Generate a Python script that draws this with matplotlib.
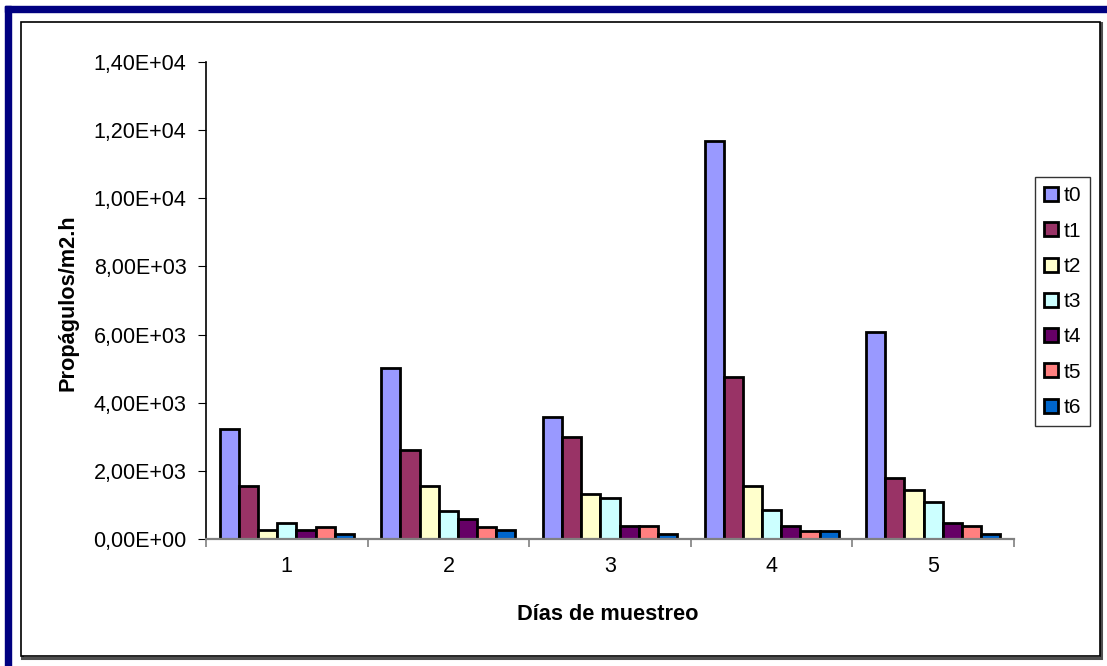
import numpy as np
import matplotlib.pyplot as plt
from matplotlib.patches import Rectangle
from matplotlib.ticker import FuncFormatter

plt.rcParams['font.family'] = ['Liberation Sans', 'DejaVu Sans']

dias = ['1', '2', '3', '4', '5']
series = ['t0', 't1', 't2', 't3', 't4', 't5', 't6']
t0 = [3220, 5010, 3580, 11670, 6070]
t1 = [1560, 2620, 2990, 4760, 1790]
t2 = [250, 1560, 1320, 1560, 1440]
t3 = [480, 830, 1200, 840, 1080]
t4 = [250, 600, 370, 370, 480]
t5 = [360, 360, 370, 240, 380]
t6 = [140, 250, 140, 240, 140]
colores = ['#9999FF', '#993366', '#FFFFCC', '#CCFFFF', '#660066', '#FF8080', '#0066CC']

datos = [t0, t1, t2, t3, t4, t5, t6]

fig = plt.figure(figsize=(11.07, 6.66), dpi=100)
ax = fig.add_axes([206 / 1107, 1 - 539 / 666, (1014 - 206) / 1107, (539 - 62) / 666])

# borde azul (arriba e izquierda) y marco interior con sombra
fig.patches.append(Rectangle((5 / 1107, 0), 6 / 1107, 1 - 6 / 666, transform=fig.transFigure,
                             color='#000080', zorder=-5))
fig.patches.append(Rectangle((5 / 1107, 1 - 12 / 666), 1, 6 / 666, transform=fig.transFigure,
                             color='#000080', zorder=-5))
fig.patches.append(Rectangle((22 / 1107, 1 - 658 / 666), (1101 - 22) / 1107, (658 - 23) / 666,
                             transform=fig.transFigure, fill=False, edgecolor='#505050', lw=2.2, zorder=-5))
fig.patches.append(Rectangle((21 / 1107, 1 - 656 / 666), (1100 - 21) / 1107, (656 - 22) / 666,
                             transform=fig.transFigure, facecolor='white', edgecolor='black', lw=1.2,
                             zorder=-4))

n = len(series)
ancho = 1 / (n + 1.43)
x = np.arange(len(dias))
for i, (nombre, vals) in enumerate(zip(series, datos)):
    pos = x + (i - (n - 1) / 2) * ancho
    ax.bar(pos, vals, width=ancho, color=colores[i], edgecolor='black', linewidth=2.0, label=nombre)

ax.set_xlim(-0.5, len(dias) - 0.5)
ax.set_ylim(0, 14000)
ax.set_yticks(np.arange(0, 14001, 2000))
ax.yaxis.set_major_formatter(FuncFormatter(lambda v, p: ('%.2E' % v).replace('.', ',')))
ax.set_xticks(np.arange(-0.5, len(dias), 1))
ax.set_xticklabels([])
ax.set_xticks(x, minor=True)
ax.set_xticklabels(dias, minor=True)
ax.tick_params(axis='x', which='minor', length=0, pad=12, labelsize=15.5)
ax.tick_params(axis='x', which='major', length=6, direction='out', color='#808080', width=1.2)
ax.tick_params(axis='y', length=6, direction='out', labelsize=15.5, pad=8)
ax.patch.set_alpha(0)

for s in ['top', 'right']:
    ax.spines[s].set_visible(False)
ax.spines['bottom'].set_color('#808080')
ax.spines['bottom'].set_linewidth(1.6)
ax.spines['left'].set_linewidth(1.2)

fig.text(68 / 1107, 1 - 303 / 666, 'Propágulos/m2.h', rotation=90, ha='center', va='center',
         fontsize=15.7, fontweight='bold')
fig.text(608 / 1107, 1 - 614 / 666, 'Días de muestreo', ha='center', va='center',
         fontsize=15.7, fontweight='bold')

leg = ax.legend(loc='upper left', bbox_to_anchor=(1035 / 1107, 1 - 177 / 666), bbox_transform=fig.transFigure,
                frameon=True, fancybox=False, edgecolor='black', fontsize=15, handlelength=0.65,
                handleheight=0.65, handletextpad=0.25, labelspacing=0.78, borderpad=0.45, borderaxespad=0)
leg.get_frame().set_linewidth(1.0)

fig.savefig('out.png', dpi=100)
